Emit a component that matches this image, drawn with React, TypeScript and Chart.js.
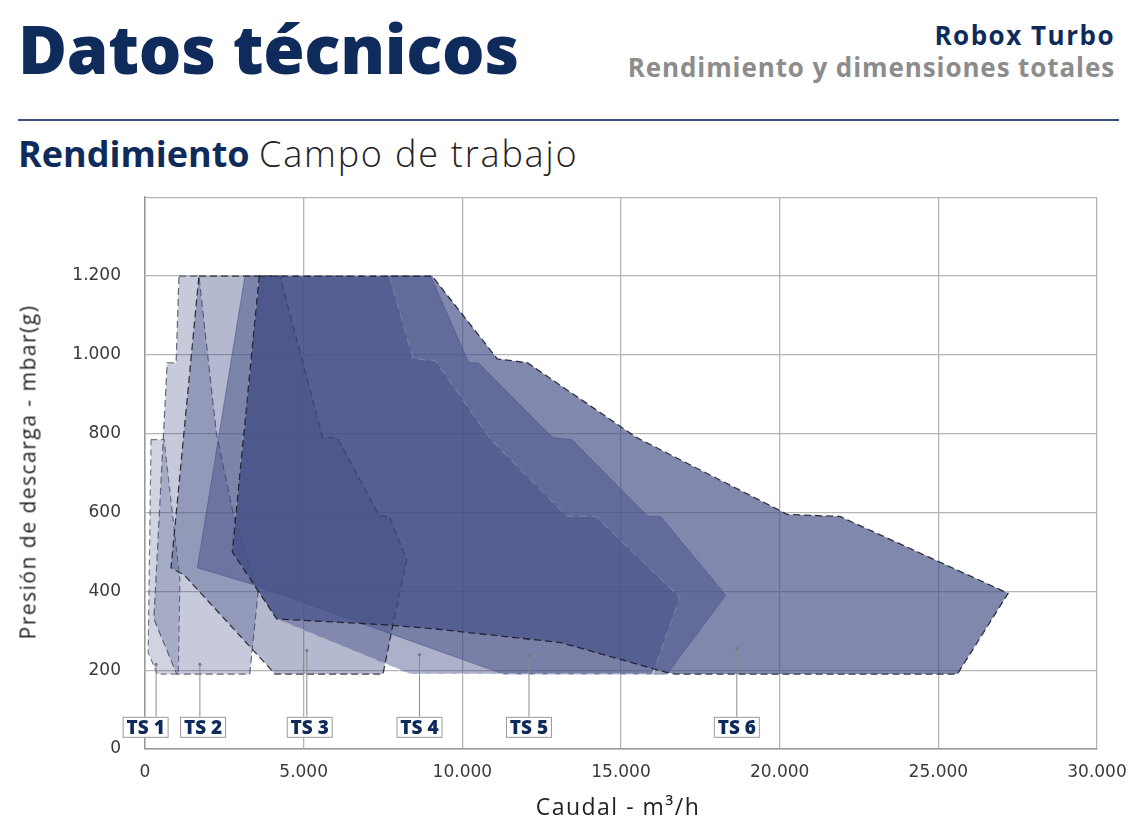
import React, { useEffect, useRef } from 'react';
import { Chart, registerables } from 'chart.js';

Chart.register(...registerables);

const FONT = '"Open Sans", "DejaVu Sans", sans-serif';
const TICK_FONT = '"DejaVu Sans", sans-serif';
const NAVY = '#0f2b5b';

// polygon outlines of each working field (caudal m3/h, presion mbar)
const ts1X = [190, 600, 1100, 1050, 380, 100];
const ts1Y = [785, 785, 430, 190, 190, 245];
const ts2X = [1070, 1700, 2250, 2800, 3560, 3300, 1000, 280, 700, 980];
const ts2Y = [1200, 1200, 800, 590, 395, 190, 190, 330, 980, 980];
const ts3X = [1700, 4250, 5600, 6050, 7400, 7700, 8250, 7800, 7500, 4100, 1250, 820];
const ts3Y = [1200, 1200, 790, 790, 590, 590, 480, 310, 190, 190, 440, 460];
const ts4X = [3600, 7700, 8450, 9150, 10900, 13300, 14200, 16850, 16000, 8350, 4150, 2750];
const ts4Y = [1200, 1200, 990, 985, 785, 590, 590, 385, 190, 190, 330, 500];
const ts5X = [3150, 9000, 10200, 10500, 12850, 13450, 15850, 16250, 18300, 16450, 11300, 3300, 1650];
const ts5Y = [1200, 1200, 980, 980, 790, 785, 590, 590, 390, 190, 190, 420, 460];
const ts6X = [3600, 9050, 11100, 12050, 15500, 20250, 21900, 27200, 25600, 16700, 16400, 13100, 9100, 7600, 4150, 2750];
const ts6Y = [1200, 1200, 990, 980, 790, 595, 590, 395, 190, 190, 195, 270, 305, 315, 330, 500];

// etiquetas TS
const tsNames = ['TS 1', 'TS 2', 'TS 3', 'TS 4', 'TS 5', 'TS 6'];
const tsLeaderX = [350, 1730, 5100, 8650, 12100, 18650];
const tsLeaderTop = [215, 215, 250, 240, 237, 255];
const tsBoxX = [20, 1830, 5190, 8650, 12100, 18650];
const tsBoxY = 55;

const fmt = (v: number) => String(v).replace(/\B(?=(\d{3})+(?!\d))/g, '.');

const poly = (xs: number[], ys: number[]) => {
    const pts = xs.map((x, i) => ({ x, y: ys[i] }));
    pts.push({ ...pts[0] });
    return pts;
};

const tsLabels = {
    id: 'tsLabels',
    afterDatasetsDraw(chart: any) {
        const { ctx, scales } = chart;
        const xs = scales.x, ys = scales.y;
        ctx.save();
        ctx.font = `800 19px ${FONT}`;
        tsNames.forEach((name, i) => {
            const lx = xs.getPixelForValue(tsLeaderX[i]);
            const ly = ys.getPixelForValue(tsLeaderTop[i]);
            const bx = xs.getPixelForValue(tsBoxX[i]);
            const by = ys.getPixelForValue(tsBoxY);
            const w = 46, h = 21;
            ctx.strokeStyle = '#8a8a8a';
            ctx.lineWidth = 1;
            ctx.beginPath();
            ctx.moveTo(lx, ly);
            ctx.lineTo(lx, by - h / 2);
            ctx.stroke();
            ctx.fillStyle = '#777';
            ctx.beginPath();
            ctx.arc(lx, ly, 1.5, 0, Math.PI * 2);
            ctx.fill();
            ctx.fillStyle = 'rgba(255,255,255,0.95)';
            ctx.fillRect(bx - w / 2, by - h / 2, w, h);
            ctx.strokeStyle = '#9a9a9a';
            ctx.strokeRect(bx - w / 2 + 0.5, by - h / 2 + 0.5, w - 1, h - 1);
            ctx.fillStyle = NAVY;
            ctx.textAlign = 'center';
            ctx.textBaseline = 'middle';
            ctx.fillText(name, bx, by + 1);
        });
        ctx.restore();
    }
};

const App: React.FC = () => {
    const chartRef = useRef<HTMLCanvasElement | null>(null);

    useEffect(() => {
        if (!chartRef.current) return;
        const fill = (a: number) => `rgba(70,80,135,${a})`;
        const chart = new Chart(chartRef.current, {
            type: 'line',
            data: {
                datasets: [
                    { label: 'TS 1', data: poly(ts1X, ts1Y), backgroundColor: fill(0.25), borderColor: 'rgba(80,80,100,0.75)', borderDash: [6, 4], borderWidth: 1.2, order: 3 },
                    { label: 'TS 2', data: poly(ts2X, ts2Y), backgroundColor: fill(0.3), borderColor: 'rgba(70,70,90,0.8)', borderDash: [7, 4], borderWidth: 1.2, order: 4 },
                    { label: 'TS 3', data: poly(ts3X, ts3Y), backgroundColor: fill(0.4), borderColor: 'rgba(30,30,40,0.85)', borderDash: [7, 4], borderWidth: 1.3, order: 2 },
                    { label: 'TS 4', data: poly(ts4X, ts4Y), backgroundColor: fill(0.45), borderColor: 'rgba(255,255,255,0.7)', borderDash: [8, 5], borderWidth: 1.2, order: 5 },
                    { label: 'TS 5', data: poly(ts5X, ts5Y), backgroundColor: fill(0.5), borderColor: 'rgba(75,85,140,0.6)', borderWidth: 1, order: 6 },
                    { label: 'TS 6', data: poly(ts6X, ts6Y), backgroundColor: fill(0.68), borderColor: 'rgba(25,25,35,0.85)', borderDash: [7, 4], borderWidth: 1.3, order: 1 },
                ].map(d => ({ ...d, fill: 'shape', tension: 0, pointRadius: 0 })) as any,
            },
            options: {
                animation: false,
                responsive: true,
                maintainAspectRatio: false,
                layout: { padding: { top: 0, right: 43, left: 0, bottom: 0 } },
                plugins: { legend: { display: false }, tooltip: { enabled: false } },
                scales: {
                    x: {
                        type: 'linear',
                        min: 0,
                        max: 30000,
                        ticks: { stepSize: 5000, callback: (v: any) => fmt(v), font: { size: 17, family: TICK_FONT }, color: '#3a3a3a', padding: 13, maxRotation: 0 },
                        grid: { color: '#b5b5b5', lineWidth: 1.3, drawTicks: false },
                        border: { color: '#9a9a9a', width: 1.5 },
                        afterFit: (s: any) => { s.height = 76; },
                    },
                    y: {
                        min: 0,
                        max: 1400,
                        ticks: { stepSize: 200, callback: (v: any) => (v === 1400 ? '' : fmt(v)), font: { size: 17, family: TICK_FONT }, color: '#3a3a3a', padding: 24 },
                        grid: { color: '#b5b5b5', lineWidth: 1.3, drawTicks: false },
                        border: { color: '#9a9a9a', width: 1.5 },
                        afterFit: (s: any) => { s.width = 145; },
                    },
                },
            },
            plugins: [tsLabels],
        });
        return () => chart.destroy();
    }, []);

    return (
        <div style={{ position: 'absolute', left: 0, top: 0, width: 1140, height: 825, fontFamily: FONT, background: '#fff' }}>
            <div style={{ position: 'absolute', left: 18, top: 15, fontSize: 67, lineHeight: 1, fontWeight: 800, color: NAVY, letterSpacing: -0.3 }}>Datos técnicos</div>
            <div style={{ position: 'absolute', right: 25, top: 22, fontSize: 26, lineHeight: 1, fontWeight: 700, color: NAVY, letterSpacing: 1.5 }}>Robox Turbo</div>
            <div style={{ position: 'absolute', right: 25, top: 54, fontSize: 26, lineHeight: 1, fontWeight: 700, color: '#8c8c8c', letterSpacing: 0.9 }}>Rendimiento y dimensiones totales</div>
            <div style={{ position: 'absolute', left: 18, top: 119, width: 1101, height: 1.5, background: '#3c4c7c' }} />
            <div style={{ position: 'absolute', left: 18, top: 136, fontSize: 36, lineHeight: 1, color: '#222', whiteSpace: 'nowrap' }}>
                <span style={{ fontWeight: 700, color: NAVY }}>Rendimiento</span>{' '}
                <span style={{ fontWeight: 300, letterSpacing: 1.8 }}>Campo de trabajo</span>
            </div>
            <div style={{ position: 'absolute', left: 0, top: 163, width: 1140, height: 662 }}>
                <canvas ref={chartRef}></canvas>
            </div>
            <div style={{ position: 'absolute', left: 28, top: 472, width: 0, height: 0 }}>
                <div style={{ position: 'absolute', left: 0, top: 0, transform: 'translate(-50%, -50%) rotate(-90deg)', fontSize: 21, lineHeight: 1, color: '#222', whiteSpace: 'nowrap', letterSpacing: 1.5 }}>
                    Presión de descarga - mbar(g)
                </div>
            </div>
            <div style={{ position: 'absolute', left: 618, top: 806, width: 0, height: 0 }}>
                <div style={{ position: 'absolute', left: 0, top: 0, transform: 'translate(-50%, -50%)', fontSize: 23, lineHeight: 1, color: '#222', whiteSpace: 'nowrap', letterSpacing: 1.5 }}>
                    Caudal - m³/h
                </div>
            </div>
        </div>
    );
};

export default App;
